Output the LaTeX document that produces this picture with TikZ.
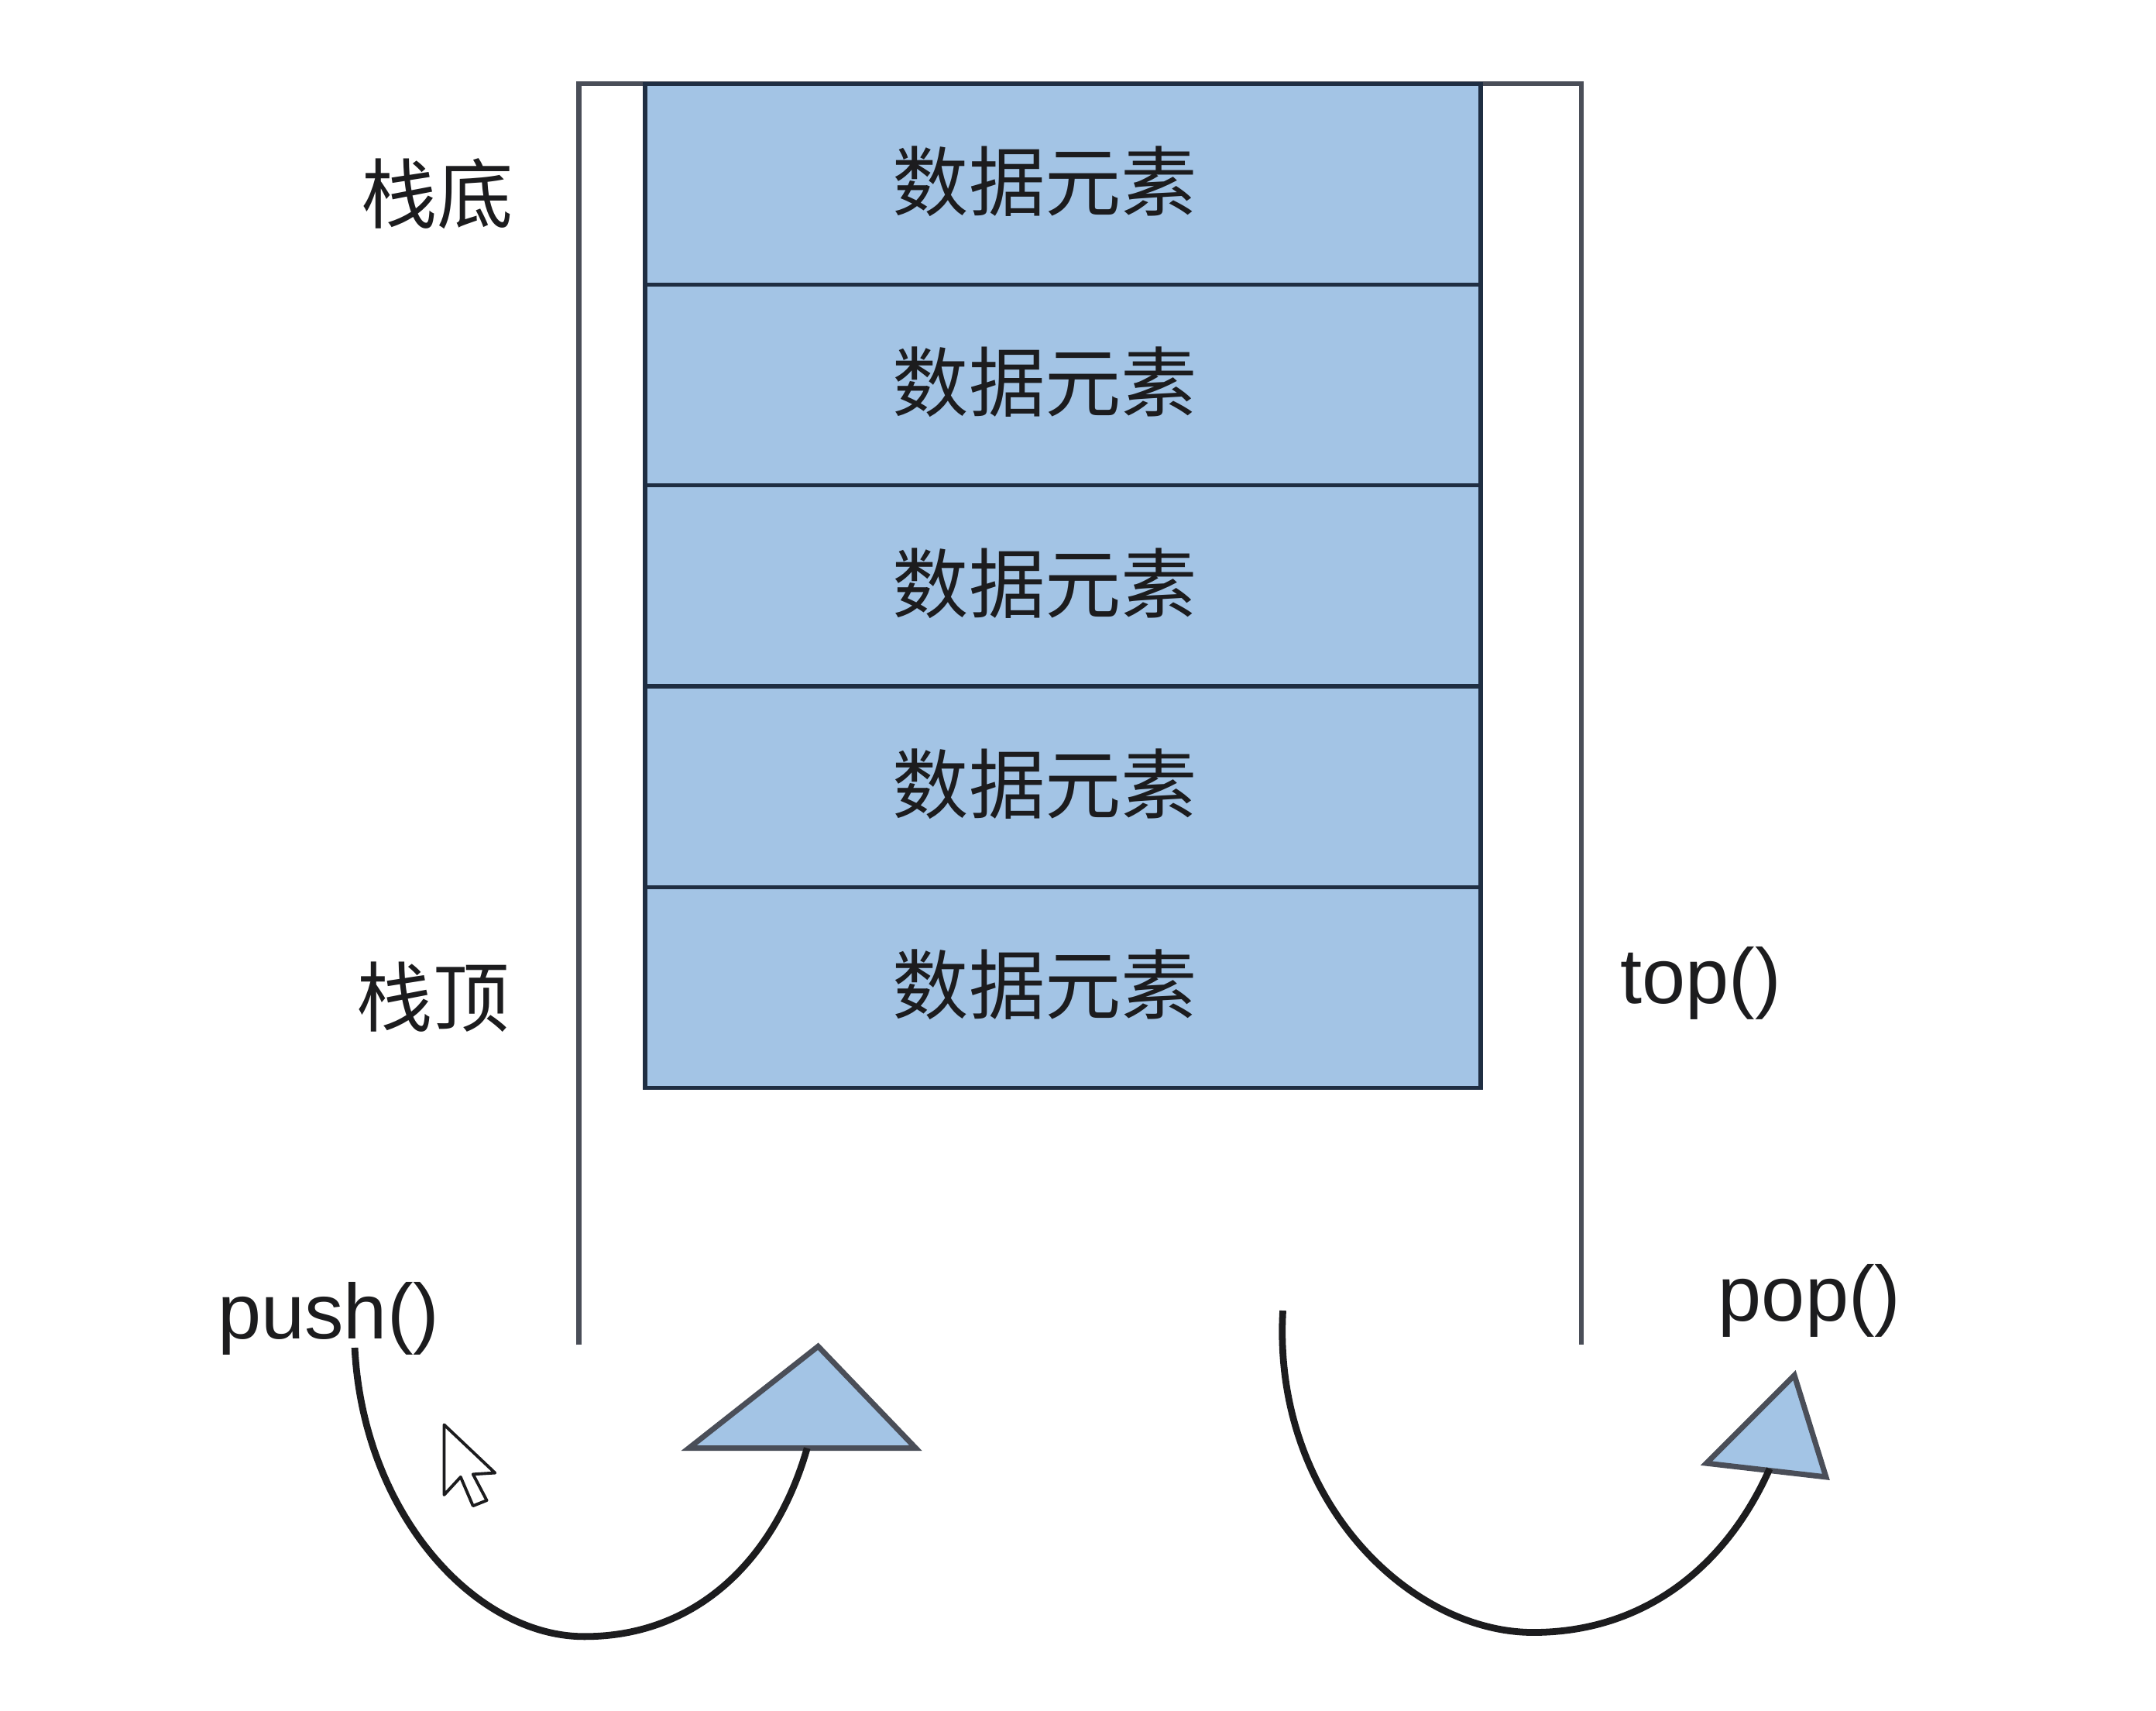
\documentclass[tikz,border=0pt]{standalone}
\usepackage{fontspec}
\setmainfont{Liberation Sans}
\newfontfamily\cjk{Noto Sans CJK SC}
\definecolor{cellblue}{HTML}{A3C4E5}
\definecolor{wallgray}{HTML}{4A4E58}
\definecolor{celledge}{HTML}{1F2E42}
\definecolor{inkblack}{HTML}{1C1C1E}
\tikzset{cell/.style = {draw=celledge,fill=cellblue,line width=1.5pt,minimum width=10.795cm,minimum height=2.592cm,inner sep=0pt}}
\tikzset{cnlabel/.style = {inner sep=0pt,text=inkblack,font=\fontsize{28}{30}\selectfont\cjk}}
\tikzset{fnlabel/.style = {inner sep=0pt,text=inkblack,font=\fontsize{28.7}{30}\selectfont}}
\tikzset{wall/.style = {draw=wallgray,line width=1.8pt}}
\tikzset{sweep/.style = {draw=inkblack,line width=2.5pt}}
\tikzset{head/.style = {draw=wallgray,fill=cellblue,line width=2pt,line join=miter}}

\begin{document}
\begin{tikzpicture}[x=0.017755cm,y=-0.017755cm]
\useasboundingbox (0,0) rectangle (1568,1243.6);
\draw[wall] (421,978) -- (421,61) -- (1150,61) -- (1150,978);
\node[cell] (e1) at (773,134) {};
\node[cell] (e2) at (773,280) {};
\node[cell] (e3) at (773,426) {};
\node[cell] (e4) at (773,572) {};
\node[cell] (e5) at (773,718) {};
\node[cnlabel] (t1) at (760,132) {数据元素};
\node[cnlabel] (t2) at (760,278) {数据元素};
\node[cnlabel] (t3) at (760,424) {数据元素};
\node[cnlabel] (t4) at (760,570) {数据元素};
\node[cnlabel] (t5) at (760,716) {数据元素};
\node[cnlabel] (bottom) at (318,141) {栈底};
\node[cnlabel] (top) at (315,725) {栈顶};
\node[fnlabel] (topfn) at (1237,715) {top()};
\node[fnlabel] (pushfn) at (239,959) {push()};
\node[fnlabel] (popfn) at (1316,946) {pop()};
% arrow heads
\coordinate (pushbegin) at (258,980);
\coordinate (pushend) at (587,1053);
\coordinate (popbegin) at (933,953);
\coordinate (popend) at (1287,1068);
\draw[head] (501,1053) -- (595,979) -- (666,1053) -- cycle;
\draw[head] (1305,1000) -- (1328,1074) -- (1241,1064) -- cycle;
\draw[sweep] (pushbegin) .. controls (264,1100) and (345,1190) .. (425,1190) .. controls (510,1190) and (565,1130) .. (pushend);
\draw[sweep] (popbegin) .. controls (925,1090) and (1025,1187) .. (1115,1187) .. controls (1195,1187) and (1255,1140) .. (popend);
%mouse pointer
\draw[draw=inkblack,line width=1.1pt,fill=white,line join=round] (323,1036) -- (323,1087) -- (335,1074) -- (344,1095) -- (354,1091) -- (344,1072) -- (360,1071) -- cycle;
\end{tikzpicture}
\end{document}
